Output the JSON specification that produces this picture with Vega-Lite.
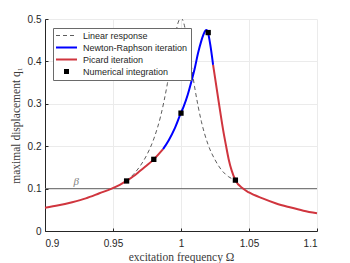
{
  "$schema": "https://vega.github.io/schema/vega-lite/v6.json",
  "width": 272,
  "height": 212,
  "autosize": {"type": "none"},
  "padding": {"left": 45, "top": 19, "right": 33, "bottom": 32},
  "background": "white",
  "config": {
    "view": {"stroke": null},
    "font": "Liberation Sans",
    "axis": {
      "domainColor": "#262626",
      "tickColor": "#262626",
      "labelColor": "#262626",
      "titleColor": "#3a3a3a",
      "gridColor": "#ebebeb",
      "labelFont": "Liberation Sans",
      "labelFontSize": 10,
      "titleFont": "Liberation Serif",
      "titleFontSize": 11.5,
      "titleFontWeight": "normal",
      "tickSize": -3,
      "domainWidth": 1
    },
    "legend": {
      "orient": "none",
      "legendX": 8,
      "legendY": 9,
      "strokeColor": "#6a6a6a",
      "fillColor": "white",
      "padding": 3,
      "labelFont": "Liberation Sans",
      "labelFontSize": 9,
      "labelColor": "#262626",
      "symbolType": "stroke",
      "symbolSize": 441,
      "symbolStrokeWidth": 2,
      "rowPadding": 2
    }
  },
  "datasets": {
    "beta": [{"w": 0.923, "q": 0.1, "label": "β"}],
    "linear": [
      {"w": 0.960, "q": 0.118},
      {"w": 0.965, "q": 0.1335},
      {"w": 0.970, "q": 0.1535},
      {"w": 0.975, "q": 0.1803},
      {"w": 0.980, "q": 0.2173},
      {"w": 0.985, "q": 0.2705},
      {"w": 0.990, "q": 0.3478},
      {"w": 0.993, "q": 0.4062},
      {"w": 0.996, "q": 0.4646},
      {"w": 0.998, "q": 0.4927},
      {"w": 1.000, "q": 0.5026},
      {"w": 1.002, "q": 0.4908},
      {"w": 1.004, "q": 0.4612},
      {"w": 1.007, "q": 0.4016},
      {"w": 1.010, "q": 0.3400},
      {"w": 1.015, "q": 0.2580},
      {"w": 1.020, "q": 0.2030},
      {"w": 1.025, "q": 0.1680},
      {"w": 1.030, "q": 0.1430},
      {"w": 1.035, "q": 0.1280},
      {"w": 1.040, "q": 0.1200}
    ],
    "nonlinear": [
      {"w": 0.900, "q": 0.055, "method": "Picard iteration", "seg": "L"},
      {"w": 0.910, "q": 0.0605, "method": "Picard iteration", "seg": "L"},
      {"w": 0.920, "q": 0.068, "method": "Picard iteration", "seg": "L"},
      {"w": 0.930, "q": 0.077, "method": "Picard iteration", "seg": "L"},
      {"w": 0.940, "q": 0.089, "method": "Picard iteration", "seg": "L"},
      {"w": 0.949, "q": 0.100, "method": "Picard iteration", "seg": "L"},
      {"w": 0.955, "q": 0.109, "method": "Picard iteration", "seg": "L"},
      {"w": 0.960, "q": 0.118, "method": "Picard iteration", "seg": "L"},
      {"w": 0.965, "q": 0.129, "method": "Picard iteration", "seg": "L"},
      {"w": 0.970, "q": 0.142, "method": "Picard iteration", "seg": "L"},
      {"w": 0.975, "q": 0.155, "method": "Picard iteration", "seg": "L"},
      {"w": 0.980, "q": 0.169, "method": "Picard iteration", "seg": "L"},
      {"w": 0.9868, "q": 0.193, "method": "Picard iteration", "seg": "L"},
      {"w": 0.9868, "q": 0.193, "method": "Newton-Raphson iteration", "seg": "M"},
      {"w": 0.991, "q": 0.214, "method": "Newton-Raphson iteration", "seg": "M"},
      {"w": 0.9954, "q": 0.242, "method": "Newton-Raphson iteration", "seg": "M"},
      {"w": 1.000, "q": 0.279, "method": "Newton-Raphson iteration", "seg": "M"},
      {"w": 1.002, "q": 0.294, "method": "Newton-Raphson iteration", "seg": "M"},
      {"w": 1.005, "q": 0.322, "method": "Newton-Raphson iteration", "seg": "M"},
      {"w": 1.0076, "q": 0.352, "method": "Newton-Raphson iteration", "seg": "M"},
      {"w": 1.010, "q": 0.382, "method": "Newton-Raphson iteration", "seg": "M"},
      {"w": 1.0125, "q": 0.419, "method": "Newton-Raphson iteration", "seg": "M"},
      {"w": 1.015, "q": 0.449, "method": "Newton-Raphson iteration", "seg": "M"},
      {"w": 1.0165, "q": 0.463, "method": "Newton-Raphson iteration", "seg": "M"},
      {"w": 1.0178, "q": 0.472, "method": "Newton-Raphson iteration", "seg": "M"},
      {"w": 1.0188, "q": 0.474, "method": "Newton-Raphson iteration", "seg": "M"},
      {"w": 1.020, "q": 0.466, "method": "Newton-Raphson iteration", "seg": "M"},
      {"w": 1.0215, "q": 0.440, "method": "Newton-Raphson iteration", "seg": "M"},
      {"w": 1.0236, "q": 0.392, "method": "Newton-Raphson iteration", "seg": "M"},
      {"w": 1.0236, "q": 0.392, "method": "Picard iteration", "seg": "R"},
      {"w": 1.0277, "q": 0.305, "method": "Picard iteration", "seg": "R"},
      {"w": 1.031, "q": 0.238, "method": "Picard iteration", "seg": "R"},
      {"w": 1.033, "q": 0.203, "method": "Picard iteration", "seg": "R"},
      {"w": 1.035, "q": 0.170, "method": "Picard iteration", "seg": "R"},
      {"w": 1.040, "q": 0.120, "method": "Picard iteration", "seg": "R"},
      {"w": 1.0456, "q": 0.100, "method": "Picard iteration", "seg": "R"},
      {"w": 1.050, "q": 0.091, "method": "Picard iteration", "seg": "R"},
      {"w": 1.060, "q": 0.077, "method": "Picard iteration", "seg": "R"},
      {"w": 1.070, "q": 0.065, "method": "Picard iteration", "seg": "R"},
      {"w": 1.080, "q": 0.056, "method": "Picard iteration", "seg": "R"},
      {"w": 1.090, "q": 0.048, "method": "Picard iteration", "seg": "R"},
      {"w": 1.100, "q": 0.042, "method": "Picard iteration", "seg": "R"}
    ],
    "numint": [
      {"w": 0.96, "q": 0.118},
      {"w": 0.98, "q": 0.169},
      {"w": 1.00, "q": 0.278},
      {"w": 1.02, "q": 0.468},
      {"w": 1.04, "q": 0.120}
    ]
  },
  "layer": [
    {
      "data": {"name": "beta"},
      "mark": {"type": "rule", "color": "#6e6e6e", "strokeWidth": 1},
      "encoding": {
        "y": {"field": "q", "type": "quantitative", "scale": {"domain": [0, 0.5], "nice": false},
          "axis": {"values": [0, 0.1, 0.2, 0.3, 0.4, 0.5], "format": "~g", "title": "maximal displacement q₁", "labelPadding": 7, "titlePadding": 6}}
      }
    },
    {
      "data": {"name": "beta"},
      "mark": {"type": "text", "font": "Liberation Serif", "fontStyle": "italic", "fontSize": 11, "color": "#808080", "dy": -7},
      "encoding": {
        "x": {"field": "w", "type": "quantitative", "scale": {"domain": [0.9, 1.1], "nice": false},
          "axis": {"values": [0.9, 0.95, 1, 1.05, 1.1], "format": "~g", "title": "excitation frequency Ω", "labelPadding": 10, "titlePadding": 3}},
        "y": {"field": "q", "type": "quantitative"},
        "text": {"field": "label"}
      }
    },
    {
      "data": {"name": "linear"},
      "mark": {"type": "line", "strokeDash": [4, 3], "strokeWidth": 0.8, "clip": true, "interpolate": "monotone"},
      "encoding": {
        "x": {"field": "w", "type": "quantitative"},
        "y": {"field": "q", "type": "quantitative"},
        "color": {
          "datum": "Linear response",
          "type": "nominal",
          "title": null,
          "scale": {
            "domain": ["Linear response", "Newton-Raphson iteration", "Picard iteration", "Numerical integration"],
            "range": ["#333333", "#0000ff", "#d0353e", "#000000"]
          },
          "legend": {
            "title": null,
            "symbolSize": 441,
            "symbolType": "stroke",
            "symbolOffset": 6,
            "labelOffset": 12,
            "encode": {
              "symbols": {
                "enter": {
                  "strokeWidth": {"signal": "datum.value === 'Linear response' ? 0.8 : (datum.value === 'Numerical integration' ? 0 : 2)"}
                },
                "update": {
                  "shape": {"signal": "datum.value === 'Numerical integration' ? 'M-0.24,-0.24H0.24V0.24H-0.24Z' : 'stroke'"},
                  "size": {"value": 441},
                  "strokeDash": {"signal": "datum.value === 'Linear response' ? [4, 3] : [1, 0]"},
                  "fill": {"signal": "datum.value === 'Numerical integration' ? '#000000' : 'transparent'"},
                  "opacity": {"value": 1}
                }
              }
            }
          }
        }
      }
    },
    {
      "data": {"name": "nonlinear"},
      "mark": {"type": "line", "strokeWidth": 2, "interpolate": "monotone"},
      "encoding": {
        "x": {"field": "w", "type": "quantitative"},
        "y": {"field": "q", "type": "quantitative"},
        "color": {"field": "method", "type": "nominal", "title": null},
        "detail": {"field": "seg", "type": "nominal"}
      }
    },
    {
      "data": {"name": "numint"},
      "mark": {"type": "square", "size": 28, "opacity": 1, "filled": true},
      "encoding": {
        "x": {"field": "w", "type": "quantitative"},
        "y": {"field": "q", "type": "quantitative"},
        "color": {"datum": "Numerical integration", "type": "nominal", "title": null}
      }
    }
  ]
}
